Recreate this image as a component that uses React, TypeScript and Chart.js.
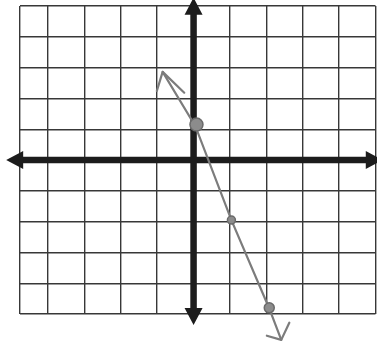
import React, { useEffect, useRef } from "react";
import { Chart, registerables } from "chart.js";

Chart.register(...registerables);

// grid ticks (left border of the paper cuts the -5 column)
const xGridTicks = [-4.77, -4, -3, -2, -1, 0, 1, 2, 3, 4, 5];
const xRange = [-4.77, 5];
const yRange = [-5, 5];

// hand-drawn line (arrow tip to arrow tip)
const lineX = [-0.85, 0.05, 1.04, 2.08, 2.41];
const lineY = [2.86, 1.1, -1.95, -4.82, -5.84];

// plotted points
const dotX = [0.08, 1.04, 2.08];
const dotY = [1.15, -1.95, -4.8];
const dotRadius = [6.5, 4, 5];

// extents of the drawn coordinate axes (arrow tips)
const xAxisExtent = [-5.15, 5.2];
const yAxisExtent = [-5.36, 5.27];

const axesPlugin = {
  id: "axesArrows",
  beforeDatasetsDraw(chart: any) {
    const ctx = chart.ctx;
    const xs = chart.scales.x;
    const ys = chart.scales.y;
    const x0 = xs.getPixelForValue(0);
    const y0 = ys.getPixelForValue(0);
    const left = xs.getPixelForValue(xAxisExtent[0]);
    const right = xs.getPixelForValue(xAxisExtent[1]);
    const top = ys.getPixelForValue(yAxisExtent[1]);
    const bottom = ys.getPixelForValue(yAxisExtent[0]);
    const len = 17;
    const half = 9;
    ctx.save();
    ctx.strokeStyle = "#1c1c1c";
    ctx.fillStyle = "#1c1c1c";
    ctx.lineWidth = 6.5;
    ctx.beginPath();
    ctx.moveTo(left + len - 2, y0);
    ctx.lineTo(right - len + 2, y0);
    ctx.moveTo(x0, top + len - 2);
    ctx.lineTo(x0, bottom - len + 2);
    ctx.stroke();
    ctx.beginPath();
    ctx.moveTo(left, y0);
    ctx.lineTo(left + len, y0 - half);
    ctx.lineTo(left + len, y0 + half);
    ctx.closePath();
    ctx.moveTo(right, y0);
    ctx.lineTo(right - len, y0 - half);
    ctx.lineTo(right - len, y0 + half);
    ctx.closePath();
    ctx.moveTo(x0, top);
    ctx.lineTo(x0 - half, top + len);
    ctx.lineTo(x0 + half, top + len);
    ctx.closePath();
    ctx.moveTo(x0, bottom);
    ctx.lineTo(x0 - half, bottom - len);
    ctx.lineTo(x0 + half, bottom - len);
    ctx.closePath();
    ctx.fill();
    ctx.restore();
  },
  afterDatasetsDraw(chart: any) {
    const ctx = chart.ctx;
    const xs = chart.scales.x;
    const ys = chart.scales.y;
    const n = lineX.length;
    const ends = [
      {
        tip: [xs.getPixelForValue(lineX[0]), ys.getPixelForValue(lineY[0])],
        from: [xs.getPixelForValue(lineX[1]), ys.getPixelForValue(lineY[1])],
        arms: [
          [48, 20],
          [-15, 30],
        ],
      },
      {
        tip: [xs.getPixelForValue(lineX[n - 1]), ys.getPixelForValue(lineY[n - 1])],
        from: [xs.getPixelForValue(lineX[n - 2]), ys.getPixelForValue(lineY[n - 2])],
        arms: [
          [-53, 15],
          [46, 19],
        ],
      },
    ];
    ctx.save();
    ctx.strokeStyle = "#7c7c7c";
    ctx.lineWidth = 2.2;
    ctx.lineCap = "round";
    ends.forEach((e) => {
      const base = Math.atan2(e.from[1] - e.tip[1], e.from[0] - e.tip[0]);
      e.arms.forEach(([deg, l]) => {
        const a = base + (deg * Math.PI) / 180;
        ctx.beginPath();
        ctx.moveTo(e.tip[0], e.tip[1]);
        ctx.lineTo(e.tip[0] + Math.cos(a) * l, e.tip[1] + Math.sin(a) * l);
        ctx.stroke();
      });
    });
    ctx.restore();
  },
};

export default function App() {
  const ref = useRef<HTMLCanvasElement | null>(null);

  useEffect(() => {
    if (!ref.current) return;
    const chart = new Chart(ref.current, {
      type: "scatter",
      data: {
        datasets: [
          {
            label: "points",
            data: dotX.map((x, i) => ({ x, y: dotY[i] })),
            pointRadius: dotRadius,
            pointBackgroundColor: "#8c8c8c",
            pointBorderColor: "#6a6a6a",
            pointBorderWidth: 1.5,
            showLine: false,
            clip: false,
            order: 0,
          },
          {
            label: "line",
            data: lineX.map((x, i) => ({ x, y: lineY[i] })),
            showLine: true,
            borderColor: "#7c7c7c",
            borderWidth: 2.2,
            pointRadius: 0,
            tension: 0,
            clip: false,
            order: 1,
          },
        ],
      },
      options: {
        animation: false,
        responsive: false,
        layout: { autoPadding: false, padding: { left: 20, top: 6, right: 1.5, bottom: 35 } },
        plugins: { legend: { display: false }, tooltip: { enabled: false } },
        scales: {
          x: {
            type: "linear",
            min: xRange[0],
            max: xRange[1],
            afterBuildTicks: (scale: any) => {
              scale.ticks = xGridTicks.map((v) => ({ value: v }));
            },
            ticks: { display: false },
            grid: { color: "#383838", lineWidth: 1.4, drawTicks: false },
            border: { display: false },
          },
          y: {
            type: "linear",
            min: yRange[0],
            max: yRange[1],
            ticks: { display: false, stepSize: 1 },
            grid: { color: "#383838", lineWidth: 1.4, drawTicks: false },
            border: { display: false },
          },
        },
      },
      plugins: [axesPlugin],
    });
    return () => chart.destroy();
  }, []);

  return (
    <div style={{ position: "fixed", left: 0, top: 0, width: 377, height: 349, background: "#fff" }}>
      <canvas ref={ref} width={377} height={349} style={{ display: "block" }} />
    </div>
  );
}
